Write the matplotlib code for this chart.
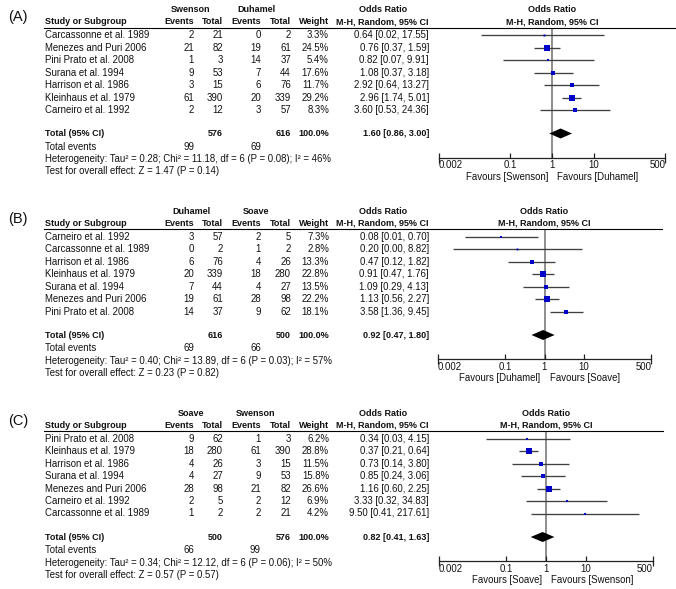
import matplotlib
matplotlib.use("Agg")
import matplotlib.pyplot as plt
from matplotlib.lines import Line2D
from matplotlib.ticker import FixedLocator, NullFormatter
import matplotlib.transforms as mtransforms
import numpy as np

plt.rcParams['font.family'] = ['Liberation Sans', 'DejaVu Sans']

W, H = 676, 589

# ---------------- data ----------------
# Panel A: Swenson vs Duhamel
A_label = "(A)"
A_groups = ["Swenson", "Duhamel"]
A_studies = ["Carcassonne et al. 1989", "Menezes and Puri 2006", "Pini Prato et al. 2008",
             "Surana et al. 1994", "Harrison et al. 1986", "Kleinhaus et al. 1979",
             "Carneiro et al. 1992"]
A_ev1 = [2, 21, 1, 9, 3, 61, 2]
A_tot1 = [21, 82, 3, 53, 15, 390, 12]
A_ev2 = [0, 19, 14, 7, 6, 20, 3]
A_tot2 = [2, 61, 37, 44, 76, 339, 57]
A_weight = [3.3, 24.5, 5.4, 17.6, 11.7, 29.2, 8.3]
A_or = [0.64, 0.76, 0.82, 1.08, 2.92, 2.96, 3.60]
A_lo = [0.02, 0.37, 0.07, 0.37, 0.64, 1.74, 0.53]
A_hi = [17.55, 1.59, 9.91, 3.18, 13.27, 5.01, 24.36]
A_total = [576, 616]
A_events = [99, 69]
A_pooled = [1.60, 0.86, 3.00]
A_het = "Heterogeneity: Tau\u00b2 = 0.28; Chi\u00b2 = 11.18, df = 6 (P = 0.08); I\u00b2 = 46%"
A_test = "Test for overall effect: Z = 1.47 (P = 0.14)"

# Panel B: Duhamel vs Soave
B_label = "(B)"
B_groups = ["Duhamel", "Soave"]
B_studies = ["Carneiro et al. 1992", "Carcassonne et al. 1989", "Harrison et al. 1986",
             "Kleinhaus et al. 1979", "Surana et al. 1994", "Menezes and Puri 2006",
             "Pini Prato et al. 2008"]
B_ev1 = [3, 0, 6, 20, 7, 19, 14]
B_tot1 = [57, 2, 76, 339, 44, 61, 37]
B_ev2 = [2, 1, 4, 18, 4, 28, 9]
B_tot2 = [5, 2, 26, 280, 27, 98, 62]
B_weight = [7.3, 2.8, 13.3, 22.8, 13.5, 22.2, 18.1]
B_or = [0.08, 0.20, 0.47, 0.91, 1.09, 1.13, 3.58]
B_lo = [0.01, 0.0048, 0.12, 0.47, 0.29, 0.56, 1.36]
B_hi = [0.70, 8.82, 1.82, 1.76, 4.13, 2.27, 9.45]
B_total = [616, 500]
B_events = [69, 66]
B_pooled = [0.92, 0.47, 1.80]
B_het = "Heterogeneity: Tau\u00b2 = 0.40; Chi\u00b2 = 13.89, df = 6 (P = 0.03); I\u00b2 = 57%"
B_test = "Test for overall effect: Z = 0.23 (P = 0.82)"

# Panel C: Soave vs Swenson
C_label = "(C)"
C_groups = ["Soave", "Swenson"]
C_studies = ["Pini Prato et al. 2008", "Kleinhaus et al. 1979", "Harrison et al. 1986",
             "Surana et al. 1994", "Menezes and Puri 2006", "Carneiro et al. 1992",
             "Carcassonne et al. 1989"]
C_ev1 = [9, 18, 4, 4, 28, 2, 1]
C_tot1 = [62, 280, 26, 27, 98, 5, 2]
C_ev2 = [1, 61, 3, 9, 21, 2, 2]
C_tot2 = [3, 390, 15, 53, 82, 12, 21]
C_weight = [6.2, 28.8, 11.5, 15.8, 26.6, 6.9, 4.2]
C_or = [0.34, 0.37, 0.73, 0.85, 1.16, 3.33, 9.50]
C_lo = [0.03, 0.21, 0.14, 0.24, 0.60, 0.32, 0.41]
C_hi = [4.15, 0.64, 3.80, 3.06, 2.25, 34.83, 217.61]
C_total = [500, 576]
C_events = [66, 99]
C_pooled = [0.82, 0.41, 1.63]
C_het = "Heterogeneity: Tau\u00b2 = 0.34; Chi\u00b2 = 12.12, df = 6 (P = 0.06); I\u00b2 = 50%"
C_test = "Test for overall effect: Z = 0.57 (P = 0.57)"

axis_ticks = [0.002, 0.1, 1, 10, 500]
axis_tick_labels = ["0.002", "0.1", "1", "10", "500"]

# ---------------- drawing ----------------
fig = plt.figure(figsize=(W / 100, H / 100), dpi=100)
fig.patch.set_facecolor('white')

FS = 6.9
FSB = 6.5
TXT = '#111111'


def T(x, y, s, ha='left', bold=False, size=None, color=TXT):
    fig.text(x / W, 1 - y / H, s, ha=ha, va='center',
             fontsize=size if size else (FSB if bold else FS),
             fontweight='bold' if bold else 'normal', color=color)


def panel(top, label, groups, studies, ev1, tot1, ev2, tot2, weight, orv, lo, hi,
          total, events, pooled, het, test, x_one, ppd, line_end):
    T(8, top + 17, label, size=10.5)
    T(191, top + 10, groups[0], ha='center', bold=True)
    T(256, top + 10, groups[1], ha='center', bold=True)
    T(45, top + 21.5, "Study or Subgroup", bold=True)
    T(194, top + 21.5, "Events", ha='right', bold=True)
    T(223, top + 21.5, "Total", ha='right', bold=True)
    T(261, top + 21.5, "Events", ha='right', bold=True)
    T(291, top + 21.5, "Total", ha='right', bold=True)
    T(329, top + 21.5, "Weight", ha='right', bold=True)
    T(383, top + 10, "Odds Ratio", ha='center', bold=True)
    T(429, top + 21.5, "M-H, Random, 95% CI", ha='right', bold=True)
    T(x_one, top + 10, "Odds Ratio", ha='center', bold=True)
    T(x_one, top + 21.5, "M-H, Random, 95% CI", ha='center', bold=True)
    fig.add_artist(Line2D([44 / W, line_end / W], [1 - (top + 27.5) / H] * 2,
                          color='black', lw=0.8))

    row_y = [35.3 + 12.45 * i for i in range(len(studies))]
    for i, s in enumerate(studies):
        y = top + row_y[i]
        T(45, y, s)
        T(194, y, str(ev1[i]), ha='right')
        T(223, y, str(tot1[i]), ha='right')
        T(261, y, str(ev2[i]), ha='right')
        T(291, y, str(tot2[i]), ha='right')
        T(329, y, "%.1f%%" % weight[i], ha='right')
        T(429, y, "%.2f [%.2f, %.2f]" % (orv[i], lo[i], hi[i]), ha='right')
    ty = top + 133.5
    T(45, ty, "Total (95% CI)", bold=True)
    T(223, ty, str(total[0]), ha='right', bold=True)
    T(291, ty, str(total[1]), ha='right', bold=True)
    T(329, ty, "100.0%", ha='right', bold=True)
    T(429, ty, "%.2f [%.2f, %.2f]" % tuple(pooled), ha='right', bold=True)
    T(45, top + 146.5, "Total events")
    T(194, top + 146.5, str(events[0]), ha='right')
    T(261, top + 146.5, str(events[1]), ha='right')
    T(45, top + 159, het)
    T(45, top + 171.5, test)

    # forest axes
    dec = np.log10(500)
    xl = x_one - dec * ppd
    xr = x_one + dec * ppd
    ytop, ybot = 27.5, 157.5
    ax = fig.add_axes([xl / W, 1 - (top + ybot) / H, (xr - xl) / W, (ybot - ytop) / H])
    ax.set_xscale('log')
    ax.set_xlim(0.002, 500)
    ax.set_ylim(ybot, ytop)
    ax.patch.set_alpha(0)
    for sp in ['top', 'left', 'right']:
        ax.spines[sp].set_visible(False)
    ax.spines['bottom'].set_linewidth(0.9)
    ax.spines['bottom'].set_color('#222222')
    ax.yaxis.set_visible(False)
    ax.xaxis.set_major_locator(FixedLocator([0.1, 1, 10]))
    ax.xaxis.set_minor_locator(FixedLocator([0.002, 500]))
    ax.xaxis.set_major_formatter(NullFormatter())
    ax.xaxis.set_minor_formatter(NullFormatter())
    ax.tick_params(axis='x', which='major', direction='in', length=3.5, width=0.9, color='#222222')
    ax.tick_params(axis='x', which='minor', direction='inout', length=7, width=0.9, color='#222222')

    ax.axvline(1, color='#7a7a7a', lw=1.2, zorder=1)
    for i in range(len(orv)):
        y = row_y[i]
        ax.plot([lo[i], hi[i]], [y, y], color='#404040', lw=0.95, zorder=2, solid_capstyle='butt')
        side = 1.1 * np.sqrt(weight[i])
        ax.plot([orv[i]], [y], marker='s', ms=side * 0.72, color='#0000c8', mew=0, zorder=3)
    pdy = 133.5
    ax.fill([pooled[1], pooled[0], pooled[2], pooled[0]], [pdy, pdy - 5, pdy, pdy + 5],
            color='black', lw=0, zorder=4)

    for v, s in zip(axis_ticks, axis_tick_labels):
        ha = 'left' if v == axis_ticks[0] else ('right' if v == axis_ticks[-1] else 'center')
        ax.text(v, 165.5, s, ha=ha, va='center', fontsize=FS, color=TXT, clip_on=False)
    tl = mtransforms.offset_copy(ax.transData, fig=fig, x=-4, y=0, units='dots')
    tr = mtransforms.offset_copy(ax.transData, fig=fig, x=5, y=0, units='dots')
    ax.text(1, 176.5, "Favours [%s]" % groups[0], ha='right', va='center', fontsize=FS,
            color=TXT, transform=tl, clip_on=False)
    ax.text(1, 176.5, "Favours [%s]" % groups[1], ha='left', va='center', fontsize=FS,
            color=TXT, transform=tr, clip_on=False)


panel(0, A_label, A_groups, A_studies, A_ev1, A_tot1, A_ev2, A_tot2, A_weight, A_or, A_lo,
      A_hi, A_total, A_events, A_pooled, A_het, A_test, 552, 42, 676)
panel(201.5, B_label, B_groups, B_studies, B_ev1, B_tot1, B_ev2, B_tot2, B_weight, B_or, B_lo,
      B_hi, B_total, B_events, B_pooled, B_het, B_test, 544.5, 39.6, 662)
panel(403.5, C_label, C_groups, C_studies, C_ev1, C_tot1, C_ev2, C_tot2, C_weight, C_or, C_lo,
      C_hi, C_total, C_events, C_pooled, C_het, C_test, 546, 39.6, 663)

fig.savefig("out.png", dpi=100, facecolor='white')
